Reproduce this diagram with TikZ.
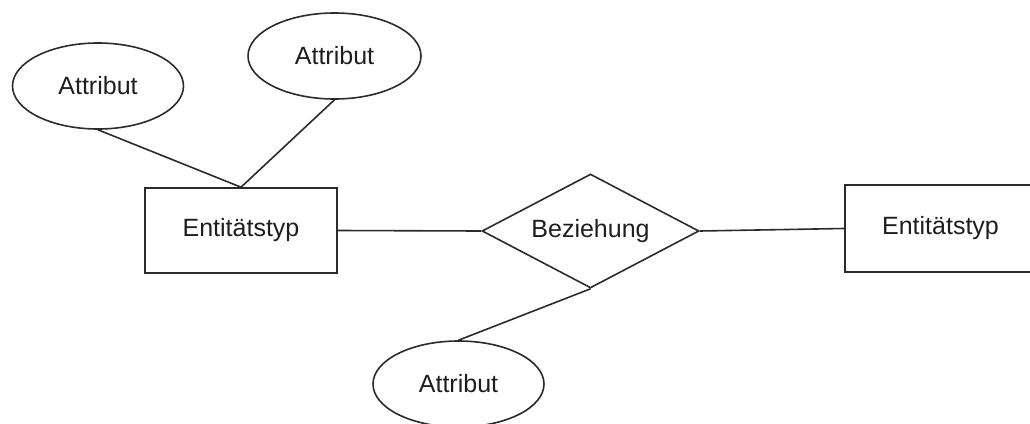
\documentclass[tikz,border=0pt]{standalone}
\usepackage{fontspec}
\setmainfont{Liberation Sans}
\usetikzlibrary{shapes.geometric}
\definecolor{linec}{HTML}{2B2B2B}
\definecolor{textc}{HTML}{1E1E1E}
\begin{document}
\begin{tikzpicture}[x=1pt,y=-1pt,
  base/.style={draw=linec, line width=1.6pt, text=textc, inner sep=0pt,
    font=\fontsize{25}{29}\selectfont},
  entity/.style={base, rectangle},
  attr/.style={base, ellipse, minimum width=171pt, minimum height=86pt},
  rel/.style={base, diamond, aspect=1.9, minimum width=217pt, minimum height=114pt},
  conn/.style={draw=linec, line width=1.6pt}]
\useasboundingbox (0,0) rectangle (1030,423);
\node[entity, minimum width=192pt, minimum height=85pt] (eL) at (241,230.5) {Entitätstyp};
\node[entity, minimum width=191pt, minimum height=87pt] (eR) at (940.5,228.5) {Entitätstyp};
\node[rel] (rel) at (590.5,231) {Beziehung};
\node[attr] (a1) at (98,86) {Attribut};
\node[attr, minimum width=173pt] (a2) at (334.5,56) {Attribut};
\node[attr] (a3) at (458.5,384) {Attribut};
\draw[conn] (a1.south) -- (eL.north);
\draw[conn] (a2.south) -- (eL.north);
\draw[conn] (eL.east) -- (rel.west);
\draw[conn] (rel.east) -- (eR.west);
\draw[conn] (rel.south) -- (a3.north);
\end{tikzpicture}
\end{document}
